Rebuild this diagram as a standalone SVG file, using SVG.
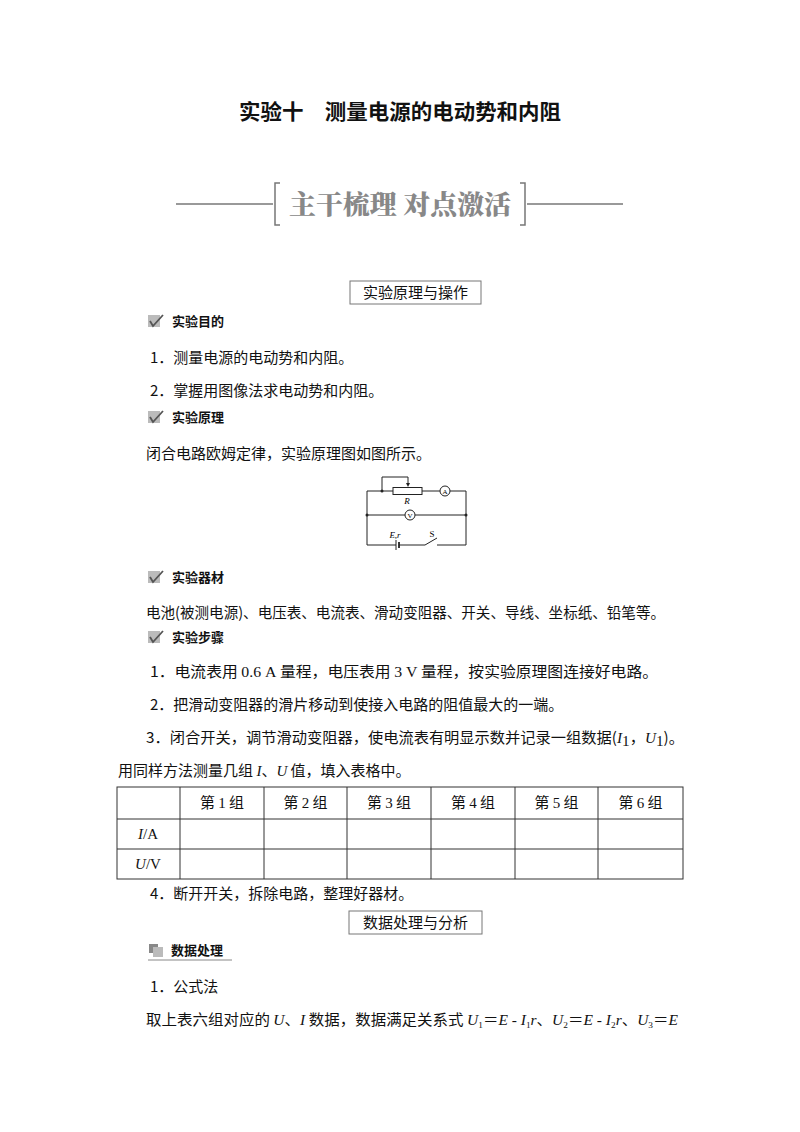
<svg xmlns="http://www.w3.org/2000/svg" width="800" height="1132" viewBox="0 0 800 1132">
<style>
.t{font-family:"Noto Sans CJK SC","Noto Sans",sans-serif;font-size:15px;fill:#111}
.h{font-family:"Noto Sans CJK SC",sans-serif;font-size:13px;font-weight:bold;fill:#111}
.s{font-family:"Liberation Serif","Noto Sans CJK SC",serif;font-size:15px;fill:#111}
.i{font-style:italic}
.w{stroke:#222;stroke-width:1;fill:none}
.tb{stroke:#333;stroke-width:1;fill:none}
</style>
<defs>
<g id="chk"><rect x="0" y="0" width="12" height="12" fill="#bbb"/><path d="M2,6 L5,11 L15,0" stroke="#555" stroke-width="1.8" fill="none"/></g>
</defs>
<rect width="800" height="1132" fill="#fff"/>
<text x="400" y="119" text-anchor="middle" style="font-family:'Noto Sans CJK SC',sans-serif;font-size:21px;font-weight:bold;fill:#111" textLength="322" lengthAdjust="spacingAndGlyphs">实验十　测量电源的电动势和内阻</text>
<g id="banner" stroke="#777" stroke-width="1.5" fill="none">
<line x1="176" y1="204" x2="273" y2="204"/><line x1="527" y1="204" x2="623" y2="204"/>
<path d="M280,183 H275 V225 H280"/><path d="M520,183 H525 V225 H520"/>
</g>
<text x="400" y="214" text-anchor="middle" style="font-family:'Noto Serif CJK SC','Noto Sans CJK SC',serif;font-size:26px;font-weight:900;fill:#888" textLength="222" lengthAdjust="spacingAndGlyphs">主干梳理 对点激活</text>
<g id="box1"><rect x="350" y="281" width="131" height="23" fill="none" stroke="#777"/><text x="415.5" y="298" text-anchor="middle" class="t">实验原理与操作</text></g>
<use href="#chk" x="148" y="315"/><text x="172" y="326" class="h">实验目的</text>
<text x="150" y="363" class="t">1．测量电源的电动势和内阻。</text>
<text x="150" y="396" class="t">2．掌握用图像法求电动势和内阻。</text>
<use href="#chk" x="148" y="411"/><text x="172" y="422" class="h">实验原理</text>
<text x="146" y="459" class="t">闭合电路欧姆定律，实验原理图如图所示。</text>
<g id="circuit">
<path class="w" d="M367,491 H393 M422,491 H440 M450,491 H466 V545 H437 M425,545 L437,538 M425,545 H399 M396,545 H367 V491 M367,515 H405 M415,515 H466"/>
<rect class="w" x="393" y="487.5" width="29" height="7"/>
<path class="w" d="M382,491 V477 H408 V485"/>
<path d="M406,483 L410,483 L408,487 Z" fill="#222"/>
<line x1="396" y1="540" x2="396" y2="550" stroke="#222"/><line x1="399" y1="542" x2="399" y2="548" stroke="#222" stroke-width="1.8"/>
<circle class="w" cx="445" cy="491" r="5"/><circle class="w" cx="410" cy="515" r="5"/>
<text x="445" y="494" text-anchor="middle" style="font-family:'Liberation Serif',serif;font-size:7px">A</text>
<text x="410" y="518" text-anchor="middle" style="font-family:'Liberation Serif',serif;font-size:7px">V</text>
<circle cx="382" cy="491" r="1.5" fill="#222"/><circle cx="367" cy="515" r="1.5" fill="#222"/><circle cx="466" cy="515" r="1.5" fill="#222"/>
<text x="407" y="504" text-anchor="middle" style="font-family:'Liberation Serif',serif;font-size:9px;font-style:italic">R</text>
<text x="395" y="538" text-anchor="middle" style="font-family:'Liberation Serif',serif;font-size:9px;font-style:italic">E,r</text>
<text x="432" y="537" text-anchor="middle" style="font-family:'Liberation Serif',serif;font-size:9px">S</text>
</g>
<use href="#chk" x="148" y="571"/><text x="172" y="582" class="h">实验器材</text>
<text x="146" y="618" class="t" textLength="519" lengthAdjust="spacingAndGlyphs">电池(被测电源)、电压表、电流表、滑动变阻器、开关、导线、坐标纸、铅笔等。</text>
<use href="#chk" x="148" y="631"/><text x="172" y="642" class="h">实验步骤</text>
<text x="150" y="677" class="t" textLength="508" lengthAdjust="spacingAndGlyphs">1．电流表用 <tspan class="s">0.6 A</tspan> 量程，电压表用 <tspan class="s">3 V</tspan> 量程，按实验原理图连接好电路。</text>
<text x="150" y="710" class="t">2．把滑动变阻器的滑片移动到使接入电路的阻值最大的一端。</text>
<text x="146" y="743" class="t" textLength="538" lengthAdjust="spacingAndGlyphs">3．闭合开关，调节滑动变阻器，使电流表有明显示数并记录一组数据(<tspan class="s i">I</tspan><tspan class="s" font-size="9" dy="3">1</tspan><tspan dy="-3">，</tspan><tspan class="s i">U</tspan><tspan class="s" font-size="9" dy="3">1</tspan><tspan dy="-3">)。</tspan></text>
<text x="118" y="776" class="t">用同样方法测量几组 <tspan class="s i">I</tspan>、<tspan class="s i">U</tspan> 值，填入表格中。</text>
<g id="table">
<rect class="tb" x="117" y="787" width="566" height="92"/>
<path class="tb" d="M117,819 H683 M117,849 H683 M180,787 V879 M264,787 V879 M347,787 V879 M431,787 V879 M515,787 V879 M598,787 V879"/>
<g class="t" text-anchor="middle">
<text x="222" y="808">第 <tspan class="s">1</tspan> 组</text><text x="305.5" y="808">第 <tspan class="s">2</tspan> 组</text><text x="389" y="808">第 <tspan class="s">3</tspan> 组</text><text x="473" y="808">第 <tspan class="s">4</tspan> 组</text><text x="556.5" y="808">第 <tspan class="s">5</tspan> 组</text><text x="640.5" y="808">第 <tspan class="s">6</tspan> 组</text>
</g>
<text x="148" y="839" text-anchor="middle" class="s"><tspan class="i">I</tspan>/A</text>
<text x="148" y="869" text-anchor="middle" class="s"><tspan class="i">U</tspan>/V</text>
</g>
<text x="150" y="899" class="t">4．断开开关，拆除电路，整理好器材。</text>
<g id="box2"><rect x="349" y="911" width="133" height="23" fill="none" stroke="#777"/><text x="415.5" y="928" text-anchor="middle" class="t">数据处理与分析</text></g>
<g id="icon2"><rect x="149" y="944" width="9" height="9" fill="#888"/><rect x="153" y="947" width="10" height="10" fill="#bbb"/><line x1="148" y1="960" x2="232" y2="960" stroke="#888"/></g>
<text x="171" y="955" class="h">数据处理</text>
<text x="150" y="992" class="t">1．公式法</text>
<text x="146" y="1025" class="t" textLength="532" lengthAdjust="spacingAndGlyphs">取上表六组对应的 <tspan class="s i">U</tspan>、<tspan class="s i">I</tspan> 数据，数据满足关系式 <tspan class="s"><tspan class="i">U</tspan><tspan font-size="9" dy="3">1</tspan><tspan dy="-3">＝</tspan><tspan class="i">E</tspan> - <tspan class="i">I</tspan><tspan font-size="9" dy="3">1</tspan><tspan class="i" dy="-3">r</tspan></tspan>、<tspan class="s"><tspan class="i">U</tspan><tspan font-size="9" dy="3">2</tspan><tspan dy="-3">＝</tspan><tspan class="i">E</tspan> - <tspan class="i">I</tspan><tspan font-size="9" dy="3">2</tspan><tspan class="i" dy="-3">r</tspan></tspan>、<tspan class="s"><tspan class="i">U</tspan><tspan font-size="9" dy="3">3</tspan><tspan dy="-3">＝</tspan><tspan class="i">E</tspan></tspan></text>
</svg>
